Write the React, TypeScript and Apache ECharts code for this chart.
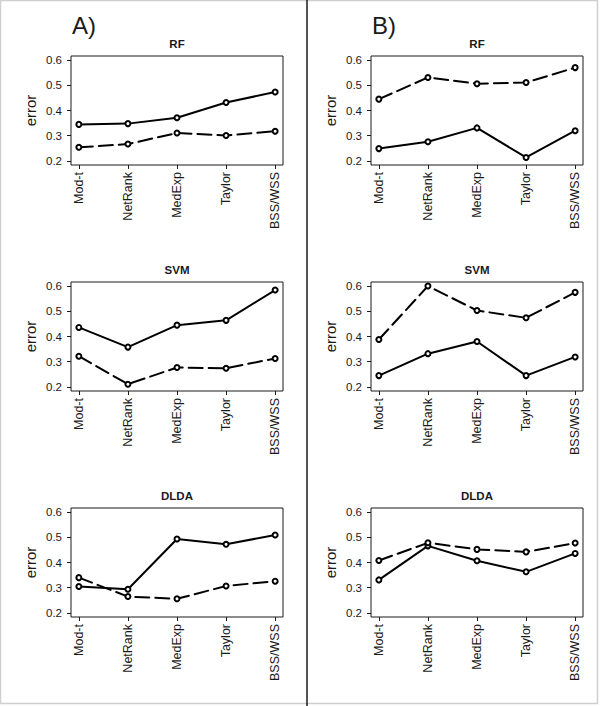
import React, { useEffect, useRef } from "react";
import * as echarts from "echarts";

const methods = ["Mod-t", "NetRank", "MedExp", "Taylor", "BSS/WSS"];
const yTicks = [0.2, 0.3, 0.4, 0.5, 0.6];
const panelLetters = ["A)", "B)"];
const classifiers = ["RF", "SVM", "DLDA"];

// Panel A
const rfA_solid = [0.345, 0.348, 0.371, 0.432, 0.473];
const rfA_dashed = [0.254, 0.267, 0.311, 0.301, 0.318];
const svmA_solid = [0.436, 0.358, 0.445, 0.464, 0.584];
const svmA_dashed = [0.322, 0.211, 0.277, 0.274, 0.313];
const dldaA_solid = [0.305, 0.294, 0.493, 0.472, 0.509];
const dldaA_dashed = [0.340, 0.265, 0.256, 0.307, 0.326];

// Panel B
const rfB_solid = [0.249, 0.276, 0.331, 0.214, 0.320];
const rfB_dashed = [0.445, 0.531, 0.506, 0.511, 0.570];
const svmB_solid = [0.245, 0.332, 0.380, 0.245, 0.319];
const svmB_dashed = [0.388, 0.600, 0.503, 0.474, 0.575];
const dldaB_solid = [0.331, 0.466, 0.407, 0.363, 0.436];
const dldaB_dashed = [0.408, 0.478, 0.452, 0.442, 0.477];

const panels = [
  { col: 0, row: 0, solid: rfA_solid, dashed: rfA_dashed },
  { col: 0, row: 1, solid: svmA_solid, dashed: svmA_dashed },
  { col: 0, row: 2, solid: dldaA_solid, dashed: dldaA_dashed },
  { col: 1, row: 0, solid: rfB_solid, dashed: rfB_dashed },
  { col: 1, row: 1, solid: svmB_solid, dashed: svmB_dashed },
  { col: 1, row: 2, solid: dldaB_solid, dashed: dldaB_dashed },
];

const colLeft = [71, 371];
const rowTop = [56, 282, 508];
const GW = 212;
const GH = 109;
const INK = "#1a1a1a";
const FONT = "Liberation Sans, Arial, sans-serif";

export default function App() {
  const ref = useRef<HTMLDivElement>(null);

  useEffect(() => {
    document.body.style.margin = "0";
    if (!ref.current) return;
    const chart = echarts.init(ref.current, null, { renderer: "svg" });

    const xIdx = methods.map((_, i) => i);

    const grid = panels.map((p) => ({
      left: colLeft[p.col],
      top: rowTop[p.row],
      width: GW,
      height: GH,
      show: true,
      borderColor: INK,
      borderWidth: 1,
      backgroundColor: "transparent",
    }));

    const xAxis = panels.map((_, i) => ({
      type: "value",
      gridIndex: i,
      min: -0.16,
      max: 4.16,
      axisLine: { show: false, onZero: false },
      splitLine: { show: false },
      axisTick: {
        show: true,
        customValues: xIdx,
        length: 4,
        lineStyle: { color: INK, width: 1 },
      },
      axisLabel: {
        customValues: xIdx,
        formatter: (v: number) => methods[Math.round(v)] ?? "",
        rotate: 90,
        margin: 7,
        fontSize: 12.5,
        color: INK,
        fontFamily: FONT,
      },
    }));

    const yAxis = panels.map((_, i) => ({
      type: "value",
      gridIndex: i,
      min: 0.184,
      max: 0.616,
      axisLine: { show: false, onZero: false },
      splitLine: { show: false },
      axisTick: {
        show: true,
        customValues: yTicks,
        length: 4,
        lineStyle: { color: INK, width: 1 },
      },
      axisLabel: {
        customValues: yTicks,
        formatter: (v: number) => v.toFixed(1),
        margin: 9,
        fontSize: 11.5,
        color: INK,
        fontFamily: FONT,
      },
    }));

    const mkSeries = (vals: number[], i: number, dashed: boolean) => ({
      type: "line",
      xAxisIndex: i,
      yAxisIndex: i,
      data: vals.map((v, j) => [xIdx[j], v]),
      symbol: "circle",
      symbolSize: 5,
      showSymbol: true,
      itemStyle: { color: "#ffffff", borderColor: "#000000", borderWidth: 2 },
      lineStyle: {
        color: "#000000",
        width: 2,
        type: dashed ? [14, 6] : "solid",
        cap: "round",
      },
      z: 3,
    });

    const series: any[] = [];
    panels.forEach((p, i) => {
      series.push(mkSeries(p.solid, i, false));
      series.push(mkSeries(p.dashed, i, true));
    });

    const graphics: any[] = [
      {
        type: "rect",
        shape: { x: 0.5, y: 0.5, width: 597, height: 703 },
        style: { fill: "none", stroke: "#cfcfcf", lineWidth: 1.5 },
        silent: true,
      },
      {
        type: "line",
        shape: { x1: 307, y1: 0, x2: 307, y2: 706 },
        style: { stroke: INK, lineWidth: 1.5 },
        silent: true,
      },
    ];

    panelLetters.forEach((t, c) => {
      graphics.push({
        type: "text",
        x: colLeft[c] + 1,
        y: 25,
        style: {
          text: t,
          fontSize: 24,
          fontFamily: FONT,
          fill: INK,
          align: "left",
          verticalAlign: "middle",
        },
      });
    });

    panels.forEach((p) => {
      const left = colLeft[p.col];
      const top = rowTop[p.row];
      graphics.push({
        type: "text",
        x: left + GW / 2,
        y: top - 12.5,
        style: {
          text: classifiers[p.row],
          fontSize: 11.5,
          fontWeight: "bold",
          fontFamily: FONT,
          fill: INK,
          align: "center",
          verticalAlign: "middle",
        },
      });
      graphics.push({
        type: "text",
        x: left - 41,
        y: top + GH / 2,
        rotation: Math.PI / 2,
        style: {
          text: "error",
          fontSize: 15,
          fontFamily: FONT,
          fill: INK,
          align: "center",
          verticalAlign: "middle",
        },
      });
    });

    chart.setOption({
      animation: false,
      backgroundColor: "#ffffff",
      grid,
      xAxis,
      yAxis,
      series,
      graphic: graphics,
    } as any);

    return () => chart.dispose();
  }, []);

  return <div ref={ref} style={{ width: 600, height: 706 }} />;
}
